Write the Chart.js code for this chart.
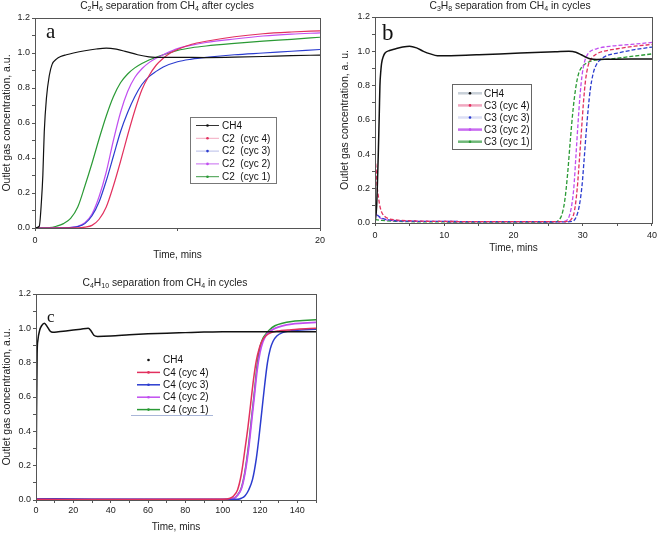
<!DOCTYPE html>
<html lang="en">
<head>
<meta charset="UTF-8">
<title>Separation from CH4 in cycles</title>
<style>
  body { margin: 0; background: #fff; }
  .page { position: relative; width: 661px; height: 534px; font-family: "Liberation Sans", Arial, sans-serif; }
  .panel { position: absolute; }
  .title { position: absolute; font-size: 10.3px; color: #222; text-align: center; white-space: nowrap; line-height: 12px; }
  .title sub { font-size: 7px; vertical-align: -2px; line-height: 0; }
</style>
</head>
<body>
<div class="page">
  <canvas id="chartA" class="panel" style="left:0;top:0" width="330" height="262"></canvas>
  <canvas id="chartB" class="panel" style="left:330px;top:0" width="331" height="262"></canvas>
  <canvas id="chartC" class="panel" style="left:0;top:262px" width="330" height="272"></canvas>
  <div class="title" style="left:57px;top:0px;width:220px">C<sub>2</sub>H<sub>6</sub> separation from CH<sub>4</sub> after cycles</div>
  <div class="title" style="left:400px;top:0px;width:220px">C<sub>3</sub>H<sub>8</sub> separation from CH<sub>4</sub> in cycles</div>
  <div class="title" style="left:55px;top:277px;width:220px">C<sub>4</sub>H<sub>10</sub> separation from CH<sub>4</sub> in cycles</div>
</div>
<script src="https://cdn.jsdelivr.net/npm/chart.js@4.4.0/dist/chart.umd.min.js"></script>
<script>
// ---- panel a : C2H6 ----
const A_LABELS = ['CH4', 'C2  (cyc 4)', 'C2  (cyc 3)', 'C2  (cyc 2)', 'C2  (cyc 1)'];
const A_CH4_T = [0, 0.3, 0.45, 0.55, 0.65, 0.8, 1.0, 1.2, 1.5, 1.8, 2.2, 2.7, 3.5, 4.3, 5.0, 5.7, 6.4, 7.2, 8.0, 9.0, 10, 12, 14, 16, 18, 20];
const A_CH4_V = [0, 0.01, 0.15, 0.3, 0.55, 0.74, 0.87, 0.935, 0.965, 0.98, 0.99, 1.0, 1.013, 1.023, 1.028, 1.022, 1.008, 0.99, 0.978, 0.975, 0.975, 0.974, 0.976, 0.98, 0.985, 0.988];
const A_C4_T = [0, 3, 3.5, 4, 4.5, 5, 5.5, 6, 6.5, 7, 7.5, 8, 8.5, 9, 9.5, 10, 11, 12, 14, 16, 18, 20];
const A_C4_V = [0, 0.001, 0.005, 0.015, 0.05, 0.12, 0.24, 0.38, 0.53, 0.67, 0.79, 0.87, 0.93, 0.97, 1.0, 1.02, 1.05, 1.067, 1.093, 1.11, 1.12, 1.127];
const A_C3_T = [0, 2, 3, 3.5, 4, 4.5, 5, 5.5, 6, 6.5, 7, 7.5, 8, 8.5, 9, 10, 11, 12, 14, 16, 18, 20];
const A_C3_V = [0, 0.001, 0.008, 0.025, 0.07, 0.15, 0.27, 0.41, 0.55, 0.66, 0.75, 0.82, 0.865, 0.895, 0.92, 0.95, 0.965, 0.975, 0.99, 1.0, 1.01, 1.02];
const A_C2_T = [0, 2, 3, 3.5, 4, 4.5, 5, 5.5, 6, 6.5, 7, 7.5, 8, 8.5, 9, 10, 11, 12, 14, 16, 18, 20];
const A_C2_V = [0, 0.001, 0.01, 0.03, 0.08, 0.18, 0.32, 0.5, 0.66, 0.78, 0.86, 0.91, 0.945, 0.97, 0.99, 1.025, 1.045, 1.06, 1.08, 1.097, 1.108, 1.115];
const A_C1_T = [0, 1, 1.5, 2, 2.5, 3, 3.5, 4, 4.5, 5, 5.5, 6, 6.5, 7, 7.5, 8, 9, 10, 11, 12, 14, 16, 18, 20];
const A_C1_V = [0, 0.002, 0.01, 0.025, 0.055, 0.12, 0.24, 0.37, 0.51, 0.64, 0.75, 0.83, 0.88, 0.915, 0.94, 0.96, 0.99, 1.015, 1.03, 1.04, 1.055, 1.068, 1.078, 1.09];

// ---- panel b : C3H8 ----
const B_LABELS = ['CH4', 'C3 (cyc 4)', 'C3 (cyc 3)', 'C3 (cyc 2)', 'C3 (cyc 1)'];
const B_CH4_T = [0, 0.24, 0.4, 0.48, 0.62, 0.71, 0.85, 0.95, 1.2, 1.45, 2.1, 3, 4, 5, 6, 7, 8, 9, 10, 12, 15, 18, 21, 24, 26, 28, 29, 29.8, 30.5, 31.2, 32, 34, 37, 40];
const B_CH4_V = [0, 0.1, 0.3, 0.41, 0.64, 0.8, 0.89, 0.93, 0.97, 0.99, 1.005, 1.015, 1.025, 1.03, 1.02, 1.0, 0.985, 0.975, 0.975, 0.976, 0.98, 0.985, 0.99, 0.995, 0.997, 1.0, 0.995, 0.98, 0.965, 0.955, 0.953, 0.954, 0.955, 0.955];
const B_C4_T = [0, 0.15, 0.3, 0.5, 0.7, 1, 1.5, 2, 3, 5, 10, 20, 27.5, 28.3, 28.8, 29.2, 29.5, 29.8, 30.1, 30.4, 30.8, 31.3, 32, 33, 35, 37.5, 40];
const B_C4_V = [0.38, 0.32, 0.22, 0.15, 0.1, 0.06, 0.035, 0.025, 0.018, 0.013, 0.009, 0.008, 0.008, 0.02, 0.07, 0.2, 0.36, 0.53, 0.7, 0.83, 0.92, 0.96, 0.985, 1.0, 1.015, 1.03, 1.04];
const B_C3_T = [0, 0.3, 0.7, 1.2, 2, 4, 10, 20, 27.5, 28.5, 29, 29.5, 29.9, 30.2, 30.5, 30.8, 31.1, 31.5, 32, 32.5, 33.5, 35, 37.5, 40];
const B_C3_V = [0.08, 0.05, 0.035, 0.025, 0.018, 0.012, 0.009, 0.008, 0.007, 0.01, 0.03, 0.1, 0.22, 0.37, 0.53, 0.67, 0.78, 0.87, 0.925, 0.95, 0.975, 0.99, 1.01, 1.025];
const B_C2_T = [0, 0.5, 1.5, 4, 10, 20, 27, 27.8, 28.3, 28.7, 29.0, 29.3, 29.6, 29.9, 30.2, 30.6, 31.1, 32, 34, 37, 40];
const B_C2_V = [0.06, 0.035, 0.02, 0.012, 0.009, 0.008, 0.008, 0.02, 0.08, 0.2, 0.38, 0.57, 0.74, 0.86, 0.93, 0.975, 1.0, 1.015, 1.03, 1.04, 1.052];
const B_C1_T = [0, 1, 3, 10, 20, 26, 26.5, 27, 27.4, 27.8, 28.2, 28.6, 29, 29.4, 29.8, 30.3, 31, 32, 34, 36, 38, 40];
const B_C1_V = [0.02, 0.015, 0.01, 0.006, 0.005, 0.006, 0.015, 0.05, 0.13, 0.28, 0.48, 0.66, 0.79, 0.87, 0.905, 0.925, 0.94, 0.95, 0.955, 0.965, 0.975, 0.985];

// ---- panel c : C4H10 ----
const C_LABELS = ['CH4', 'C4 (cyc 4)', 'C4 (cyc 3)', 'C4 (cyc 2)', 'C4 (cyc 1)'];
const C_CH4_T = [0, 0.3, 0.6, 1, 2, 3, 4.5, 6, 7.5, 9, 12, 16, 20, 24, 28, 29.5, 31, 33, 40, 50, 60, 70, 80, 90, 100, 110, 120, 130, 140, 150];
const C_CH4_V = [0, 0.5, 0.85, 0.93, 0.99, 1.015, 1.03, 1.01, 0.985, 0.977, 0.98, 0.985, 0.99, 0.995, 1.0, 0.985, 0.96, 0.953, 0.955, 0.962, 0.968, 0.972, 0.975, 0.978, 0.98, 0.98, 0.98, 0.98, 0.98, 0.98];
const C_C4_T = [0, 50, 100, 104, 106, 108, 110, 112, 113.5, 115, 116.5, 118, 119.5, 121, 123, 126, 130, 135, 140, 150];
const C_C4_V = [0.004, 0.003, 0.004, 0.01, 0.025, 0.06, 0.15, 0.3, 0.42, 0.56, 0.7, 0.81, 0.88, 0.925, 0.955, 0.975, 0.985, 0.99, 0.995, 1.0];
const C_C3_T = [0, 30, 100, 108, 110, 112, 114, 116, 118, 119.5, 121, 122.5, 124, 125.5, 127, 129, 132, 136, 142, 150];
const C_C3_V = [0.008, 0.005, 0.003, 0.004, 0.01, 0.025, 0.06, 0.12, 0.24, 0.37, 0.52, 0.67, 0.8, 0.88, 0.925, 0.955, 0.975, 0.985, 0.99, 0.995];
const C_C2_T = [0, 50, 100, 106, 108, 110, 112, 114, 115.5, 117, 118.5, 120, 121.5, 123, 125, 128, 132, 137, 143, 150];
const C_C2_V = [0.003, 0.003, 0.003, 0.01, 0.028, 0.065, 0.16, 0.31, 0.46, 0.61, 0.76, 0.86, 0.92, 0.955, 0.98, 1.0, 1.015, 1.025, 1.03, 1.035];
const C_C1_T = [0, 50, 100, 106, 108, 110, 112, 114, 115.5, 117, 118.5, 120, 121.5, 123, 125, 128, 132, 137, 143, 150];
const C_C1_V = [0.003, 0.003, 0.003, 0.01, 0.03, 0.07, 0.17, 0.33, 0.48, 0.63, 0.79, 0.89, 0.94, 0.965, 0.99, 1.015, 1.03, 1.04, 1.045, 1.05];

const COLORS = ['#111111', '#e2305e', '#2b3ccf', '#c14ef0', '#2a9a35'];
const FONT = '"Liberation Sans", Arial, sans-serif';

function pts(t, v) { return t.map((x, i) => ({ x: x, y: v[i] })); }

// frame around plot + panel letter
const framePlugin = {
  id: 'frame',
  afterDatasetsDraw(chart, args, o) {
    const { ctx, chartArea: a } = chart;
    ctx.save();
    ctx.strokeStyle = '#555';
    ctx.lineWidth = 1;
    ctx.strokeRect(a.left + 0.5, a.top + 0.5, a.right - a.left, a.bottom - a.top);
    ctx.fillStyle = '#111';
    ctx.font = o.letterSize + 'px "Liberation Serif", "Times New Roman", serif';
    ctx.textBaseline = 'alphabetic';
    ctx.fillText(o.letter, o.lx, o.ly);
    ctx.restore();
  }
};

// legend drawn inside the plot
const boxLegend = {
  id: 'boxLegend',
  afterDraw(chart, args, o) {
    const ctx = chart.ctx;
    ctx.save();
    if (o.border) {
      ctx.fillStyle = '#fff';
      ctx.fillRect(o.x, o.y, o.w, o.h);
      ctx.strokeStyle = o.border;
      ctx.lineWidth = 1;
      ctx.strokeRect(o.x + 0.5, o.y + 0.5, o.w, o.h);
    }
    if (o.bottomLine) {
      ctx.strokeStyle = o.bottomLine;
      ctx.lineWidth = 1;
      ctx.beginPath();
      ctx.moveTo(o.x, o.y + o.h + 0.5);
      ctx.lineTo(o.x + o.w, o.y + o.h + 0.5);
      ctx.stroke();
    }
    ctx.font = '10px ' + FONT;
    ctx.textBaseline = 'middle';
    chart.data.datasets.forEach((ds, i) => {
      const y = o.row0 + i * o.rowH;
      if (!(o.dotOnly && o.dotOnly.includes(i))) {
        ctx.strokeStyle = o.lineColors ? o.lineColors[i] : ds.borderColor;
        ctx.lineWidth = o.lineWidth;
        ctx.beginPath();
        ctx.moveTo(o.lx0, y);
        ctx.lineTo(o.lx1, y);
        ctx.stroke();
      }
      ctx.fillStyle = ds.borderColor;
      ctx.beginPath();
      ctx.arc((o.lx0 + o.lx1) / 2, y, 1.3, 0, Math.PI * 2);
      ctx.fill();
      ctx.fillStyle = '#111';
      ctx.fillText(ds.label, o.tx, y + 0.5);
    });
    ctx.restore();
  }
};

function makeChart(id, cfg) {
  const datasets = cfg.series.map((s, i) => ({
    label: cfg.labels[i],
    data: pts(s[0], s[1]),
    borderColor: COLORS[i],
    borderWidth: cfg.widths[i],
    borderDash: cfg.dashes[i],
    pointRadius: 0,
    cubicInterpolationMode: 'monotone',
    fill: false
  }));
  return new Chart(document.getElementById(id), {
    type: 'line',
    data: { datasets: datasets },
    plugins: [framePlugin, boxLegend],
    options: {
      responsive: false,
      animation: false,
      events: [],
      layout: { padding: cfg.padding },
      plugins: {
        legend: { display: false },
        tooltip: { enabled: false },
        frame: cfg.frame,
        boxLegend: cfg.legend
      },
      scales: {
        x: {
          type: 'linear', min: 0, max: cfg.xMax,
          afterFit: s => { s.height = cfg.xHeight; },
          border: { display: true, color: '#555' },
          grid: { drawOnChartArea: false, drawTicks: true, tickLength: 3, color: '#555' },
          ticks: {
            stepSize: cfg.xStep, autoSkip: false, maxRotation: 0, padding: cfg.xPad,
            color: '#222', font: { family: FONT, size: 9 },
            callback: cfg.xLabel
          },
          title: { display: true, text: 'Time, mins', color: '#222', font: { family: FONT, size: 10 }, padding: { top: 0, bottom: cfg.xTitlePad } }
        },
        y: {
          min: 0, max: 1.2,
          afterFit: s => { s.width = cfg.yWidth; },
          border: { display: true, color: '#555' },
          grid: { drawOnChartArea: false, drawTicks: true, tickLength: 3, color: '#555' },
          ticks: {
            stepSize: 0.1, autoSkip: false, padding: 2,
            color: '#222', font: { family: FONT, size: 9 },
            callback: v => (Math.round(v * 10) % 2 === 0 ? v.toFixed(1) : '')
          },
          title: { display: true, text: cfg.yTitle, color: '#222', font: { family: FONT, size: 10.5 }, padding: { top: cfg.yTitlePad, bottom: 0 } }
        }
      }
    }
  });
}

makeChart('chartA', {
  labels: A_LABELS,
  series: [[A_CH4_T, A_CH4_V], [A_C4_T, A_C4_V], [A_C3_T, A_C3_V], [A_C2_T, A_C2_V], [A_C1_T, A_C1_V]],
  widths: [1.2, 1.2, 1.2, 1.2, 1.2],
  dashes: [[], [], [], [], []],
  padding: { top: 18, right: 10, left: 0, bottom: 0 },
  xMax: 20, xStep: 10, xHeight: 34, xPad: 4, xTitlePad: 1,
  xLabel: v => (v === 10 ? '' : v),
  yWidth: 35, yTitlePad: 1,
  yTitle: 'Outlet gas concentration, a.u.',
  frame: { letter: 'a', letterSize: 21, lx: 46, ly: 38 },
  legend: { x: 190, y: 117, w: 86, h: 66, border: '#777', row0: 125.5, rowH: 12.8, lx0: 196, lx1: 219, tx: 222, lineWidth: 1,
            lineColors: ['#333', '#f3a9c0', '#b7bde8', '#c86cf0', '#3d9a45'] }
});

makeChart('chartB', {
  labels: B_LABELS,
  series: [[B_CH4_T, B_CH4_V], [B_C4_T, B_C4_V], [B_C3_T, B_C3_V], [B_C2_T, B_C2_V], [B_C1_T, B_C1_V]],
  widths: [1.5, 1.3, 1.3, 1.3, 1.3],
  dashes: [[], [4, 2], [4, 2], [4, 2], [4, 2]],
  padding: { top: 17, right: 6, left: 0, bottom: 0 },
  xMax: 40, xStep: 5, xHeight: 39, xPad: 4, xTitlePad: 8,
  xLabel: v => (v % 10 === 0 ? v : ''),
  yWidth: 45, yTitlePad: 9,
  yTitle: 'Outlet gas concentration, a. u.',
  frame: { letter: 'b', letterSize: 23, lx: 52, ly: 40 },
  legend: { x: 122, y: 84, w: 79, h: 65, border: '#666', row0: 93.3, rowH: 12.1, lx0: 128, lx1: 152, tx: 154, lineWidth: 2.5,
            lineColors: ['#c8d0d8', '#f0a8c0', '#dcdff5', '#c86cf0', '#6fb878'] }
});

makeChart('chartC', {
  labels: C_LABELS,
  series: [[C_CH4_T, C_CH4_V], [C_C4_T, C_C4_V], [C_C3_T, C_C3_V], [C_C2_T, C_C2_V], [C_C1_T, C_C1_V]],
  widths: [1.5, 1.5, 1.5, 1.8, 1.5],
  dashes: [[], [], [], [], []],
  padding: { top: 32, right: 14, left: 0, bottom: 0 },
  xMax: 150, xStep: 10, xHeight: 34, xPad: 2, xTitlePad: 1,
  xLabel: v => (v % 20 === 0 && v < 150 ? v : ''),
  yWidth: 36, yTitlePad: 1,
  yTitle: 'Outlet gas concentration, a.u.',
  frame: { letter: 'c', letterSize: 17, lx: 47, ly: 60 },
  legend: { x: 131, y: 92, w: 82, h: 61, border: null, bottomLine: '#a9b6d8', row0: 98, rowH: 12.4, lx0: 137, lx1: 160, tx: 163, lineWidth: 1.5,
            dotOnly: [0] }
});
</script>
</body>
</html>
